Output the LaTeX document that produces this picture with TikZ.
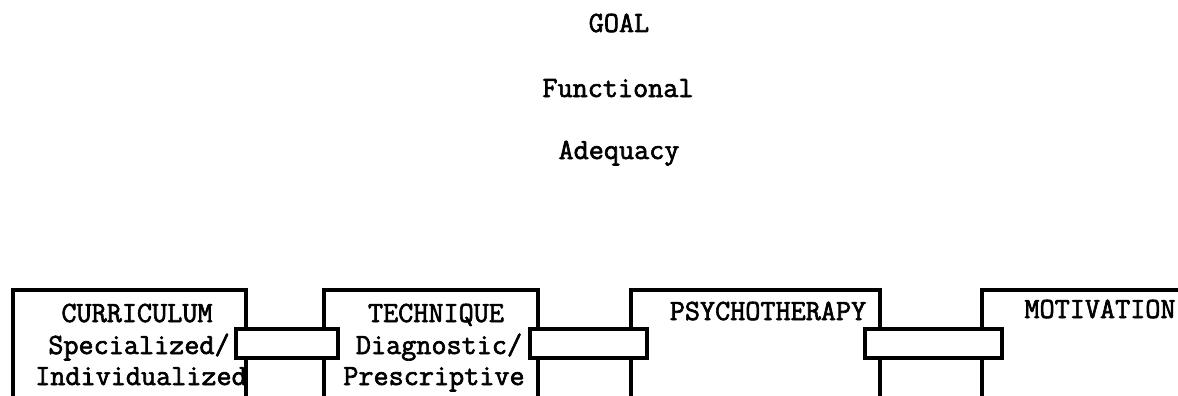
\documentclass[tikz,border=0pt]{standalone}
\usepackage{fontspec}
\newfontfamily\typew{Latin Modern Mono}[FakeBold=2.2]
\begin{document}
\begin{tikzpicture}[x=0.5pt,y=-0.5pt,
  lbl/.style={font=\fontsize{14.67pt}{15.75pt}\selectfont\typew, inner sep=0pt, anchor=base},
  box/.style={draw, line width=1.8pt, inner sep=0pt, outer sep=0pt, minimum height=75pt},
  link/.style={draw, fill=white, line width=1.8pt, inner sep=0pt, outer sep=0pt, minimum height=14.5pt}]
\useasboundingbox (0,0) rectangle (1178,396);
\clip (0,0) rectangle (1178,396);
% goal text
\node[lbl] (goal) at (619,32) {GOAL};
\node[lbl] (func) at (618,97) {Functional};
\node[lbl] (adeq) at (619,159) {Adequacy};
% boxes (bottoms run off the page)
\node[box, minimum width=116.5pt] (curr) at (129.5,365) {};
\node[box, minimum width=107pt] (tech) at (431,365) {};
\node[box, minimum width=124.5pt] (psy) at (755.5,365) {};
\node[box, minimum width=139pt] (mot) at (1121,365) {};
% box texts
\node[lbl] (currA) at (137,322) {CURRICULUM};
\node[lbl] (currB) at (139,354) {Specialized/};
\node[lbl] (currC) at (141,385) {Individualized};
\node[lbl] (techA) at (436,322) {TECHNIQUE};
\node[lbl] (techB) at (439,354) {Diagnostic/};
\node[lbl] (techC) at (434,385) {Prescriptive};
\node[lbl] (psyA) at (768,320) {PSYCHOTHERAPY};
\node[lbl] (motA) at (1100,318) {MOTIVATION};
% linking bars
\node[link, minimum width=51pt] (l1) at (287,343.5) {};
\node[link, minimum width=58.5pt] (l2) at (588.5,343.5) {};
\node[link, minimum width=68.5pt] (l3) at (933.5,343.5) {};
\end{tikzpicture}
\end{document}
